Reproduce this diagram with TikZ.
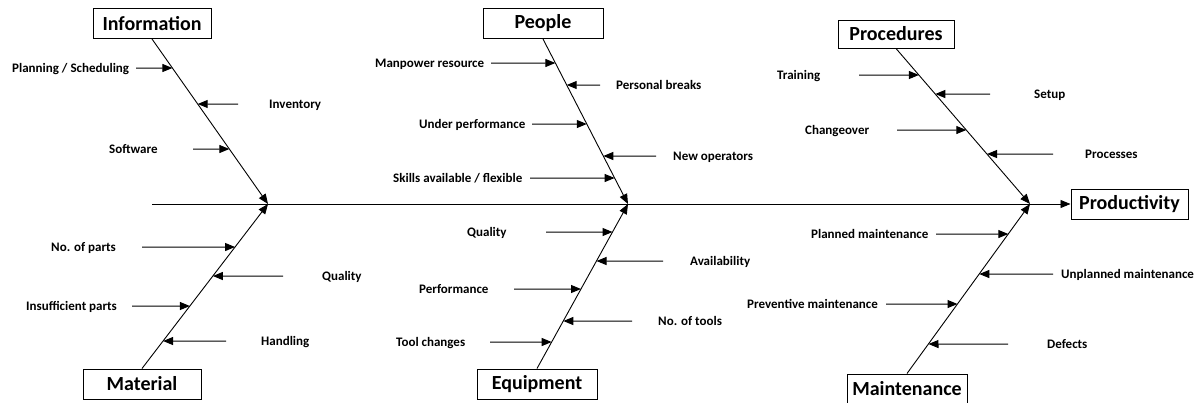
\documentclass[tikz,border=0pt]{standalone}
\usepackage{fontspec}
\setmainfont{Carlito}
\usetikzlibrary{arrows.meta,calc}
\newcommand\cause[7]{%
  \coordinate (#1s) at (#5,#4);
  \coordinate (#1h) at (0,#4);
  \draw[sub] (#1s) -- (intersection cs: first line={(#2)--(#3)}, second line={(#1h)--(#1s)});
  \node[lbl] (#1) at (#6,#4+4.5) {#7};
}
\begin{document}
\begin{tikzpicture}[x=1pt,y=-1pt,
  hdr/.style={draw,line width=1pt,inner sep=0pt,font=\fontsize{20}{22}\selectfont\bfseries,minimum height=30pt},
  lbl/.style={inner sep=0pt,font=\fontsize{13}{15}\selectfont\bfseries,anchor=base west},
  tipstyle/.style={-{Triangle[length=10pt,width=8pt]}},
  bone/.style={line width=0.9pt,tipstyle},
  sub/.style={line width=1pt,tipstyle}]
\useasboundingbox (0,0) rectangle (1199,402);

\node[hdr,minimum width=118pt] (info) at (152,23.5) {Information};
\node[hdr,minimum width=120pt] (people) at (543,23.5) {People};
\node[hdr,minimum width=116pt,minimum height=28pt] (proc) at (896,34) {Procedures};
\node[hdr,minimum width=117pt] (prod) at (1129.5,204) {Productivity};
\node[hdr,minimum width=118pt] (mat) at (142,384) {Material};
\node[hdr,minimum width=120pt] (equip) at (537,384) {Equipment};
\node[hdr,minimum width=120pt] (maint) at (907,389) {Maintenance};

\coordinate (sp) at (152,204);
\coordinate (t1) at (268,204);
\coordinate (t2) at (628,204);
\coordinate (t3) at (1030,204);

\draw[bone] (sp) -- (prod.west);
\draw[bone] (info.south) -- (t1);
\draw[bone] (mat.north) -- (t1);
\draw[bone] (people.south) -- (t2);
\draw[bone] (equip.north) -- (t2);
\draw[bone] (proc.south) -- (t3);
\draw[bone] (maint.north) -- (t3);

\cause{pl}{info.south}{t1}{68}{136}{12}{Planning / Scheduling}
\cause{inv}{info.south}{t1}{104}{238}{269}{Inventory}
\cause{sw}{info.south}{t1}{149}{193}{109}{Software}

\cause{np}{mat.north}{t1}{247}{142}{51}{No. of parts}
\cause{mq}{mat.north}{t1}{276}{283}{322}{Quality}
\cause{ip}{mat.north}{t1}{306}{132}{26}{Insufficient parts}
\cause{hd}{mat.north}{t1}{341}{226}{261}{Handling}

\cause{mp}{people.south}{t2}{63}{491}{375}{Manpower resource}
\cause{pb}{people.south}{t2}{85}{600}{616}{Personal breaks}
\cause{up}{people.south}{t2}{124}{532}{419}{Under performance}
\cause{nop}{people.south}{t2}{156}{656}{673}{New operators}
\cause{sk}{people.south}{t2}{178}{530}{393}{Skills available / flexible}

\cause{eq}{equip.north}{t2}{232}{546}{467}{Quality}
\cause{av}{equip.north}{t2}{261}{663}{690}{Availability}
\cause{pf}{equip.north}{t2}{289}{514}{419}{Performance}
\cause{nt}{equip.north}{t2}{321}{632}{658}{No. of tools}
\cause{tc}{equip.north}{t2}{342}{490}{396}{Tool changes}

\cause{tr}{proc.south}{t3}{75}{859}{777}{Training}
\cause{su}{proc.south}{t3}{94}{990}{1034}{Setup}
\cause{co}{proc.south}{t3}{130}{897}{805}{Changeover}
\cause{prc}{proc.south}{t3}{154}{1053}{1085}{Processes}

\cause{pm}{maint.north}{t3}{234}{936}{811}{Planned maintenance}
\cause{um}{maint.north}{t3}{274}{1053}{1061}{Unplanned maintenance}
\cause{pv}{maint.north}{t3}{304}{886}{747}{Preventive maintenance}
\cause{df}{maint.north}{t3}{344}{1008}{1047}{Defects}
\end{tikzpicture}
\end{document}
